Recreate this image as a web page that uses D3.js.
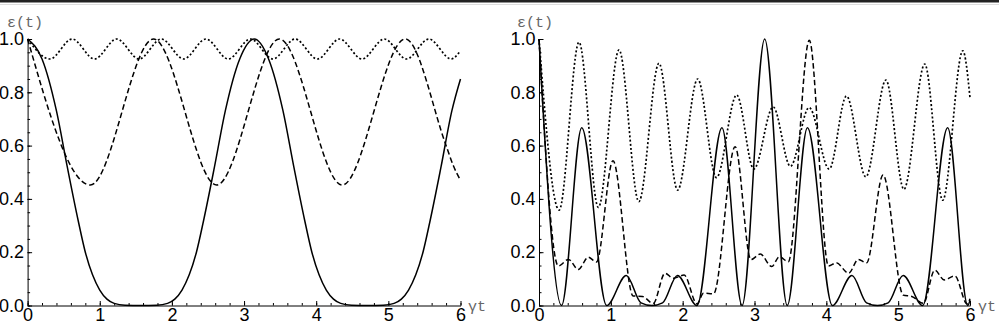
<!DOCTYPE html>
<html>
<head>
<meta charset="utf-8">
<script src="https://cdnjs.cloudflare.com/ajax/libs/d3/7.8.5/d3.min.js"></script>
<style>
  body { margin: 0; background: #fff; }
  .tick text { font-family: "Liberation Sans", Arial, sans-serif; font-size: 18px; fill: #000; }
  .alabel { font-family: "Liberation Mono", "DejaVu Sans Mono", monospace; font-size: 15px; fill: #666; }
</style>
</head>
<body>
<script>
// values (t, epsilon)
const xTicks = [0, 1, 2, 3, 4, 5, 6];
const yTicks = [0, 0.2, 0.4, 0.6, 0.8, 1.0];

// left panel
const solidLeftT = [0, 0.2, 0.4, 0.55, 0.7, 0.8, 0.9, 1.0, 1.1, 1.2, 1.35, 1.571, 1.79, 1.94, 2.04, 2.14, 2.24, 2.34, 2.44, 2.59, 2.74, 2.94, 3.142, 3.34, 3.54, 3.69, 3.84, 3.94, 4.04, 4.14, 4.24, 4.34, 4.49, 4.712, 4.93, 5.08, 5.18, 5.28, 5.38, 5.48, 5.58, 5.73, 5.88, 6.0];
const solidLeftV = [1, 0.925, 0.73, 0.52, 0.32, 0.2, 0.115, 0.058, 0.024, 0.008, 0.001, 0, 0.001, 0.008, 0.024, 0.058, 0.115, 0.2, 0.32, 0.52, 0.73, 0.925, 1, 0.925, 0.73, 0.52, 0.32, 0.2, 0.115, 0.058, 0.024, 0.008, 0.001, 0, 0.001, 0.008, 0.024, 0.058, 0.115, 0.2, 0.32, 0.52, 0.73, 0.85];
const dashedLeftT = [0, 0.87, 1.745, 2.62, 3.49, 4.36, 5.235, 5.8, 5.9, 6.0];
const dashedLeftV = [1, 0.452, 1, 0.452, 1, 0.452, 1, 0.6, 0.525, 0.47];
const dottedLeftT = [0, 0.309, 0.618, 0.927, 1.236, 1.545, 1.854, 2.163, 2.472, 2.781, 3.09, 3.399, 3.708, 4.017, 4.326, 4.635, 4.944, 5.253, 5.562, 5.871, 6.0];
const dottedLeftV = [1, 0.925, 1, 0.925, 1, 0.925, 1, 0.925, 1, 0.925, 1, 0.925, 1, 0.925, 1, 0.925, 1, 0.925, 1, 0.925, 0.956];

// right panel
const solidRightT = [0, 0.314, 0.595, 0.942, 1.215, 1.42, 1.571, 1.72, 1.927, 2.199, 2.547, 2.827, 3.142, 3.456, 3.737, 4.084, 4.357, 4.56, 4.712, 4.86, 5.069, 5.341, 5.689, 5.969, 6.0];
const solidRightV = [1, 0, 0.667, 0, 0.113, 0.01, 0, 0.01, 0.113, 0, 0.667, 0, 1, 0, 0.667, 0, 0.113, 0.01, 0, 0.01, 0.113, 0, 0.667, 0, 0.02];
const dashedRightT = [0, 0.27, 0.41, 0.547, 0.686, 0.8, 1.03, 1.31, 1.44, 1.59, 1.754, 1.87, 2.02, 2.2, 2.29, 2.43, 2.73, 2.95, 3.08, 3.24, 3.345, 3.47, 3.763, 4.03, 4.14, 4.31, 4.445, 4.56, 4.79, 5.07, 5.19, 5.35, 5.51, 5.64, 5.79, 5.96, 6.0];
const dashedRightV = [1, 0.148, 0.173, 0.135, 0.181, 0.163, 0.543, 0.036, 0.034, 0.008, 0.121, 0.102, 0.114, 0.006, 0.046, 0.044, 0.596, 0.172, 0.193, 0.146, 0.183, 0.164, 0.995, 0.148, 0.16, 0.121, 0.173, 0.16, 0.49, 0.039, 0.034, 0.008, 0.133, 0.096, 0.111, 0.006, 0.025];
const dottedRightT = [0, 0.28, 0.557, 0.826, 1.114, 1.39, 1.67, 1.93, 2.209, 2.47, 2.752, 2.99, 3.26, 3.5, 3.76, 4.04, 4.28, 4.55, 4.83, 5.08, 5.37, 5.62, 5.9, 6.0];
const dottedRightV = [1, 0.358, 0.988, 0.368, 0.959, 0.39, 0.909, 0.433, 0.85, 0.48, 0.79, 0.512, 0.745, 0.522, 0.743, 0.512, 0.786, 0.483, 0.846, 0.436, 0.906, 0.395, 0.956, 0.78];

const svgWidth = 999;
const svgHeight = 325;

var svg = d3.select("body")
  .append("svg")
  .attr("width", svgWidth)
  .attr("height", svgHeight);

// dark strip along the top edge
svg.append("rect").attr("x", 0).attr("y", 0).attr("width", svgWidth).attr("height", 2.5).attr("fill", "#222");
svg.append("line").attr("x1", 0).attr("x2", svgWidth).attr("y1", 4.5).attr("y2", 4.5)
  .attr("stroke", "#ddd").attr("stroke-width", 1);

const styles = {
  solid: null,
  dashed: "5.5,3",
  dotted: "2,2.2"
};

function drawPanel(left, right, series, labelX, gammaX) {
  var x = d3.scaleLinear().domain([0, 6]).range([left, right]);
  var y = d3.scaleLinear().domain([0, 1]).range([305.5, 39]);

  var g = svg.append("g");

  // minor ticks
  g.append("g")
    .attr("transform", "translate(0," + y(0) + ")")
    .call(d3.axisBottom(x).tickValues(d3.range(0, 30.5).map(d => d / 5)).tickSize(-2.5).tickFormat(""))
    .call(a => a.select(".domain").remove());
  g.append("g")
    .attr("transform", "translate(" + x(0) + ",0)")
    .call(d3.axisLeft(y).tickValues(d3.range(0, 20.5).map(d => d / 20)).tickSize(-2.5).tickFormat(""))
    .call(a => a.select(".domain").remove());

  // major ticks + labels
  g.append("g")
    .attr("transform", "translate(0," + y(0) + ")")
    .call(d3.axisBottom(x).tickValues(xTicks).tickSize(-4.5).tickSizeOuter(0).tickPadding(3).tickFormat(d3.format("d")));
  g.append("g")
    .attr("transform", "translate(" + x(0) + ",0)")
    .call(d3.axisLeft(y).tickValues(yTicks).tickSize(-4.5).tickSizeOuter(0).tickPadding(3.5).tickFormat(d3.format(".1f")));

  g.selectAll(".domain").attr("stroke", "#000");
  g.selectAll(".tick line").attr("stroke", "#000");

  var line = d3.line()
    .x(d => x(d[0]))
    .y(d => y(d[1]))
    .curve(d3.curveMonotoneX);

  series.forEach(s => {
    g.append("path")
      .datum(d3.zip(s.t, s.v))
      .attr("fill", "none")
      .attr("stroke", "#000")
      .attr("stroke-width", s.style == "dotted" ? 1.7 : 1.5)
      .attr("stroke-dasharray", styles[s.style])
      .attr("d", line);
  });

  g.append("text").attr("class", "alabel").attr("x", labelX).attr("y", 27).text("ε(t)");
  g.append("text").attr("class", "alabel").attr("x", gammaX).attr("y", 311).text("γt");
}

drawPanel(27.6, 460.5, [
  { t: dottedLeftT, v: dottedLeftV, style: "dotted" },
  { t: dashedLeftT, v: dashedLeftV, style: "dashed" },
  { t: solidLeftT, v: solidLeftV, style: "solid" }
], 7, 468);

drawPanel(539, 970, [
  { t: dottedRightT, v: dottedRightV, style: "dotted" },
  { t: dashedRightT, v: dashedRightV, style: "dashed" },
  { t: solidRightT, v: solidRightV, style: "solid" }
], 517, 978);
</script>
</body>
</html>
